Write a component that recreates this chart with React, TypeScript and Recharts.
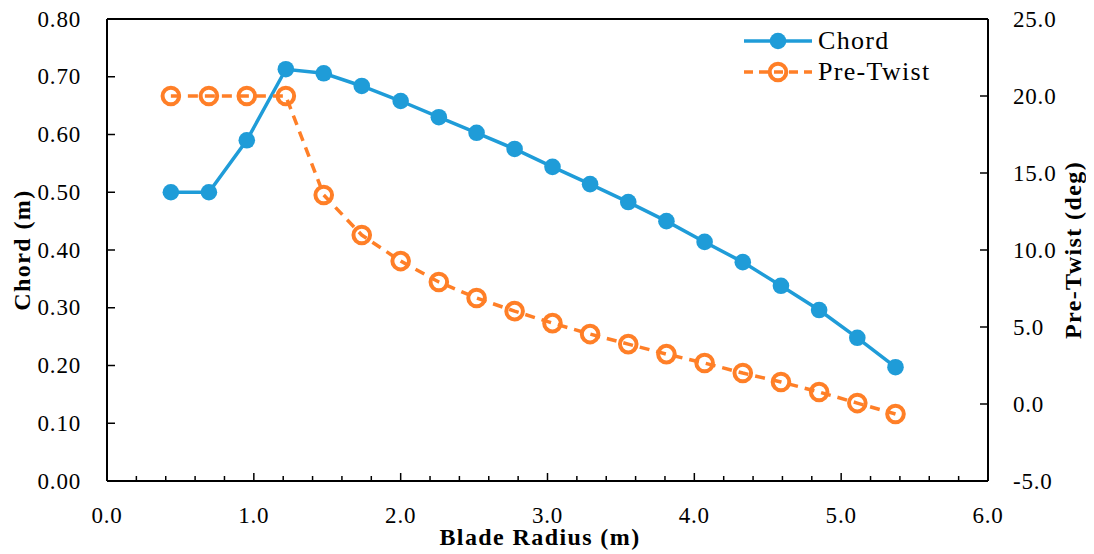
import {
  LineChart,
  Line,
  XAxis,
  YAxis,
  ReferenceLine,
} from "recharts";

// blade stations (m)
const radius = [
  0.435, 0.694, 0.952, 1.218, 1.476, 1.735, 2.0, 2.26, 2.517, 2.776,
  3.034, 3.29, 3.55, 3.81, 4.07, 4.33, 4.59, 4.85, 5.11, 5.37,
];
// chord (m)
const chord = [
  0.5, 0.5, 0.59, 0.713, 0.706, 0.684, 0.658, 0.63, 0.603, 0.575,
  0.544, 0.514, 0.483, 0.45, 0.414, 0.379, 0.338, 0.296, 0.248, 0.197,
];
// pre-twist (deg)
const preTwist = [
  20.0, 20.0, 20.0, 20.0, 13.57, 10.97, 9.28, 7.92, 6.88, 6.03,
  5.25, 4.54, 3.89, 3.24, 2.66, 2.01, 1.43, 0.78, 0.06, -0.65,
];

const seriesNames = ["Chord", "Pre-Twist"];
const xTicks = [
  0, 0.2, 0.4, 0.6, 0.8, 1, 1.2, 1.4, 1.6, 1.8, 2, 2.2, 2.4, 2.6, 2.8, 3,
  3.2, 3.4, 3.6, 3.8, 4, 4.2, 4.4, 4.6, 4.8, 5, 5.2, 5.4, 5.6, 5.8, 6,
];
const chordTicks = [0, 0.1, 0.2, 0.3, 0.4, 0.5, 0.6, 0.7, 0.8];
const twistTicks = [-5, 0, 5, 10, 15, 20, 25];

const data = radius.map((r, i) => ({
  r,
  chord: chord[i],
  twist: preTwist[i],
}));

const BLUE = "#1f9cd8";
const ORANGE = "#ff7f27";
const FONT = "'Liberation Serif', serif";
const TICK_FONT = 23;
const TICK_SPACING = 0.8;

function XTick(props: any) {
  const { x, y, payload } = props;
  const v = payload.value;
  const major = Math.abs(v - Math.round(v)) < 1e-6;
  return (
    <g>
      <line x1={x} x2={x} y1={y} y2={y - (major ? 8 : 5)} stroke="#000" strokeWidth={1.5} />
      {major && (
        <text x={x} y={y + 34} textAnchor="middle" dominantBaseline="central" fontFamily={FONT} fontSize={TICK_FONT} letterSpacing={TICK_SPACING} fill="#000">
          {v.toFixed(1)}
        </text>
      )}
    </g>
  );
}

function LeftTick(props: any) {
  const { x, y, payload } = props;
  return (
    <g>
      <line x1={x} x2={x + 8} y1={y} y2={y} stroke="#000" strokeWidth={1.5} />
      <text x={x - 26} y={y} textAnchor="end" dominantBaseline="central" fontFamily={FONT} fontSize={TICK_FONT} letterSpacing={TICK_SPACING} fill="#000">
        {payload.value.toFixed(2)}
      </text>
    </g>
  );
}

function RightTick(props: any) {
  const { x, y, payload } = props;
  return (
    <g>
      <line x1={x} x2={x - 8} y1={y} y2={y} stroke="#000" strokeWidth={1.5} />
      <text x={x + 25} y={y} textAnchor="start" dominantBaseline="central" fontFamily={FONT} fontSize={TICK_FONT} letterSpacing={TICK_SPACING} fill="#000">
        {payload.value.toFixed(1)}
      </text>
    </g>
  );
}

function TwistDot(props: any) {
  const { cx, cy, index } = props;
  return (
    <circle key={index} cx={cx} cy={cy} r={8.3} fill="none" stroke={ORANGE} strokeWidth={4} />
  );
}

function Legend() {
  const row = (name: string, color: string, dashed: boolean, top: number) => (
    <div style={{ position: "absolute", left: 0, top, display: "flex", alignItems: "center", height: 30 }}>
      <svg width={70} height={30}>
        <line x1={1} x2={69} y1={15} y2={15} stroke={color} strokeWidth={3.5} strokeDasharray={dashed ? "9 6" : undefined} />
        {dashed ? (
          <circle cx={35} cy={15} r={8.3} fill="none" stroke={color} strokeWidth={4} />
        ) : (
          <circle cx={35} cy={15} r={8.3} fill={color} />
        )}
      </svg>
      <span style={{ marginLeft: 5, fontFamily: FONT, fontSize: 26, letterSpacing: 1.3, color: "#000", lineHeight: "30px" }}>{name}</span>
    </div>
  );
  return (
    <div style={{ position: "absolute", left: 735, top: 18, width: 250, height: 70 }}>
      {row(seriesNames[0], BLUE, false, 0)}
      {row(seriesNames[1], ORANGE, true, 31)}
    </div>
  );
}

function Title(props: { x: number; y: number; rotate?: boolean; children: string }) {
  const { x, y, rotate, children } = props;
  return (
    <text
      x={x}
      y={y}
      transform={rotate ? `rotate(-90, ${x}, ${y})` : undefined}
      textAnchor="middle"
      dominantBaseline="central"
      fontFamily={FONT}
      fontSize={24}
      fontWeight="bold"
      letterSpacing={1.4}
      fill="#000"
    >
      {children}
    </text>
  );
}

export default function App() {
  return (
    <div style={{ position: "relative", width: 1086, height: 546 }}>
      <LineChart
        width={1086}
        height={546}
        data={data}
        margin={{ top: 11, right: 0, bottom: 0, left: 0 }}
      >
        <XAxis
          dataKey="r"
          type="number"
          domain={[0, 6]}
          ticks={xTicks}
          interval={0}
          height={73}
          tickSize={0}
          tickMargin={0}
          tickLine={false}
          axisLine={{ stroke: "#000", strokeWidth: 2 }}
          tick={<XTick />}
          label={{
            content: (p: any) => (
              <Title x={532} y={p.viewBox.y + 56}>Blade Radius (m)</Title>
            ),
          }}
        />
        <YAxis
          yAxisId="left"
          type="number"
          domain={[0, 0.8]}
          ticks={chordTicks}
          interval={0}
          width={99}
          tickSize={0}
          tickMargin={0}
          tickLine={false}
          axisLine={{ stroke: "#000", strokeWidth: 2 }}
          tick={<LeftTick />}
          label={{
            content: (p: any) => (
              <Title x={14} y={p.viewBox.y + p.viewBox.height / 2} rotate>
                Chord (m)
              </Title>
            ),
          }}
        />
        <YAxis
          yAxisId="right"
          orientation="right"
          type="number"
          domain={[-5, 25]}
          ticks={twistTicks}
          interval={0}
          width={106}
          tickSize={0}
          tickMargin={0}
          tickLine={false}
          axisLine={{ stroke: "#000", strokeWidth: 2 }}
          tick={<RightTick />}
          label={{
            content: (p: any) => (
              <Title x={p.viewBox.x + 85} y={p.viewBox.y + p.viewBox.height / 2} rotate>
                Pre-Twist (deg)
              </Title>
            ),
          }}
        />
        <ReferenceLine yAxisId="left" y={0.8} stroke="#000" strokeWidth={2} />
        <Line
          yAxisId="left"
          type="linear"
          dataKey="chord"
          name={seriesNames[0]}
          stroke={BLUE}
          strokeWidth={3.5}
          dot={{ r: 8.3, fill: BLUE, stroke: BLUE, strokeWidth: 0 }}
          activeDot={false}
          isAnimationActive={false}
        />
        <Line
          yAxisId="right"
          type="linear"
          dataKey="twist"
          name={seriesNames[1]}
          stroke={ORANGE}
          strokeWidth={3.5}
          strokeDasharray="10 7"
          dot={TwistDot}
          activeDot={false}
          isAnimationActive={false}
        />
      </LineChart>
      <Legend />
    </div>
  );
}
